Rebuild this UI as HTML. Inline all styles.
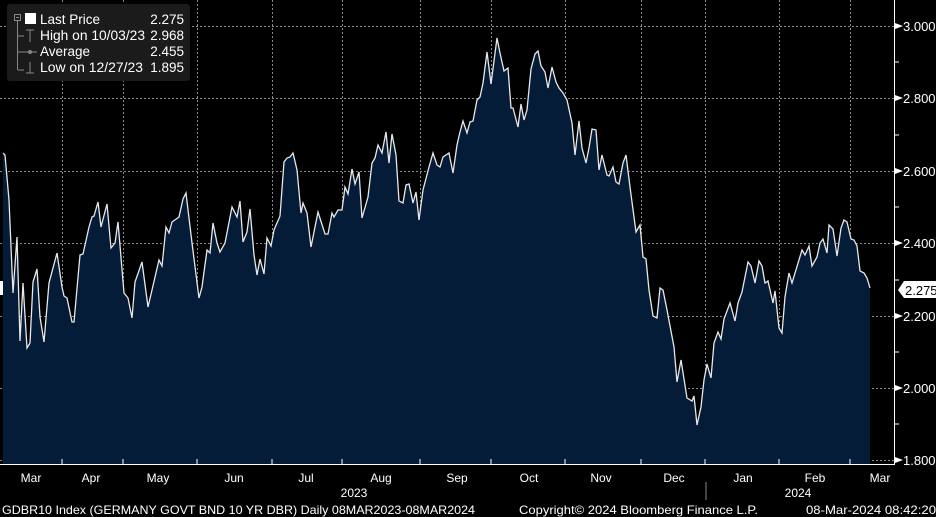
<!DOCTYPE html>
<html><head><meta charset="utf-8"><style>
html,body{margin:0;padding:0;background:#000;}
svg{display:block;font-family:"Liberation Sans",sans-serif;}
</style></head><body>
<svg width="936" height="517" viewBox="0 0 936 517">
<rect width="936" height="517" fill="#000"/>
<g stroke="#8a8a8a" stroke-width="1" stroke-dasharray="2,2">
<line x1="0" y1="26.5" x2="894" y2="26.5"/><line x1="0" y1="98.5" x2="894" y2="98.5"/><line x1="0" y1="171.5" x2="894" y2="171.5"/><line x1="0" y1="243.5" x2="894" y2="243.5"/><line x1="0" y1="316.5" x2="894" y2="316.5"/><line x1="0" y1="388.5" x2="894" y2="388.5"/><line x1="0" y1="460.5" x2="894" y2="460.5"/>
<line x1="62.5" y1="0" x2="62.5" y2="464"/><line x1="123.5" y1="0" x2="123.5" y2="464"/><line x1="197.5" y1="0" x2="197.5" y2="464"/><line x1="272.5" y1="0" x2="272.5" y2="464"/><line x1="342.5" y1="0" x2="342.5" y2="464"/><line x1="420.5" y1="0" x2="420.5" y2="464"/><line x1="491.5" y1="0" x2="491.5" y2="464"/><line x1="565.5" y1="0" x2="565.5" y2="464"/><line x1="641.5" y1="0" x2="641.5" y2="464"/><line x1="705.5" y1="0" x2="705.5" y2="464"/><line x1="779.5" y1="0" x2="779.5" y2="464"/><line x1="850.5" y1="0" x2="850.5" y2="464"/>
</g>
<polygon fill="#041c38" points="3,464 3,153 5,155 9,200 13,293 17,237 20,341 23,283 27,348 30,343 33,282 37,269 40,317 44,342 49,283 57,253 62,287 64,296 67,298 72,322 74,322 80,255 83,254 89,227 92,217 94,216 98,202 101,227 107,204 111,248 115,243 118,222 124,293 128,298 132,318 135,282 142,262 148,307 152,290 159,260 162,266 166,227 169,233 172,222 179,217 183,199 186,193 192,243 199,298 202,287 207,250 210,253 213,223 217,243 220,252 225,243 232,207 237,217 240,201 243,242 247,232 250,209 254,255 257,275 260,259 264,274 267,238 271,246 274,230 280,216 284,162 287,158 290,157 293,153 297,170 301,213 303,203 307,213 311,247 318,212 325,234 328,234 332,213 334,217 338,210 342,210 345,187 348,194 352,169 355,184 359,172 362,218 368,197 372,163 375,158 378,145 382,153 386,132 389,163 392,134 396,155 399,201 403,203 406,185 409,184 413,203 416,192 419,220 423,190 429,167 433,153 437,165 440,167 443,157 449,153 453,173 457,145 460,132 463,121 467,133 470,122 473,121 477,100 480,97 483,83 487,52 491,84 497,38 500,53 504,71 508,68 511,108 513,108 518,127 521,104 524,120 527,110 531,69 535,54 538,51 541,66 545,72 548,88 552,67 556,82 559,88 563,93 567,100 572,123 575,155 579,121 582,148 586,163 589,148 592,129 596,130 599,170 602,155 607,175 609,176 613,167 616,182 619,184 623,163 626,155 630,187 636,232 640,225 643,257 646,259 649,290 653,316 657,318 660,288 663,290 667,310 674,347 677,382 681,360 687,398 692,401 694,396 697,425 701,407 704,380 707,364 711,378 714,343 718,332 721,339 724,319 730,303 735,321 738,303 742,292 748,262 751,266 755,283 759,261 762,266 765,283 768,281 773,303 775,291 779,328 782,333 785,297 789,273 792,283 802,250 805,255 809,246 812,266 817,257 820,243 823,239 827,253 829,225 833,229 837,256 841,228 844,220 847,222 851,239 854,240 857,246 860,271 864,273 867,278 870,288 870,464"/>
<polyline fill="none" stroke="#e8e8e8" stroke-width="1.3" points="3,153 5,155 9,200 13,293 17,237 20,341 23,283 27,348 30,343 33,282 37,269 40,317 44,342 49,283 57,253 62,287 64,296 67,298 72,322 74,322 80,255 83,254 89,227 92,217 94,216 98,202 101,227 107,204 111,248 115,243 118,222 124,293 128,298 132,318 135,282 142,262 148,307 152,290 159,260 162,266 166,227 169,233 172,222 179,217 183,199 186,193 192,243 199,298 202,287 207,250 210,253 213,223 217,243 220,252 225,243 232,207 237,217 240,201 243,242 247,232 250,209 254,255 257,275 260,259 264,274 267,238 271,246 274,230 280,216 284,162 287,158 290,157 293,153 297,170 301,213 303,203 307,213 311,247 318,212 325,234 328,234 332,213 334,217 338,210 342,210 345,187 348,194 352,169 355,184 359,172 362,218 368,197 372,163 375,158 378,145 382,153 386,132 389,163 392,134 396,155 399,201 403,203 406,185 409,184 413,203 416,192 419,220 423,190 429,167 433,153 437,165 440,167 443,157 449,153 453,173 457,145 460,132 463,121 467,133 470,122 473,121 477,100 480,97 483,83 487,52 491,84 497,38 500,53 504,71 508,68 511,108 513,108 518,127 521,104 524,120 527,110 531,69 535,54 538,51 541,66 545,72 548,88 552,67 556,82 559,88 563,93 567,100 572,123 575,155 579,121 582,148 586,163 589,148 592,129 596,130 599,170 602,155 607,175 609,176 613,167 616,182 619,184 623,163 626,155 630,187 636,232 640,225 643,257 646,259 649,290 653,316 657,318 660,288 663,290 667,310 674,347 677,382 681,360 687,398 692,401 694,396 697,425 701,407 704,380 707,364 711,378 714,343 718,332 721,339 724,319 730,303 735,321 738,303 742,292 748,262 751,266 755,283 759,261 762,266 765,283 768,281 773,303 775,291 779,328 782,333 785,297 789,273 792,283 802,250 805,255 809,246 812,266 817,257 820,243 823,239 827,253 829,225 833,229 837,256 841,228 844,220 847,222 851,239 854,240 857,246 860,271 864,273 867,278 870,288"/>
<rect x="0" y="281" width="3" height="14" fill="#fff"/>
<g stroke="#fff" stroke-width="1">
<line x1="894.5" y1="0" x2="894.5" y2="465"/>
<line x1="0" y1="464.5" x2="895" y2="464.5"/>
<line x1="62" y1="464" x2="62" y2="459"/><line x1="123" y1="464" x2="123" y2="459"/><line x1="197" y1="464" x2="197" y2="459"/><line x1="272" y1="464" x2="272" y2="459"/><line x1="342" y1="464" x2="342" y2="459"/><line x1="420" y1="464" x2="420" y2="459"/><line x1="491" y1="464" x2="491" y2="459"/><line x1="565" y1="464" x2="565" y2="459"/><line x1="641" y1="464" x2="641" y2="459"/><line x1="705" y1="464" x2="705" y2="459"/><line x1="779" y1="464" x2="779" y2="459"/><line x1="850" y1="464" x2="850" y2="459"/>
<line x1="895" y1="62" x2="899" y2="62"/><line x1="895" y1="135" x2="899" y2="135"/><line x1="895" y1="207" x2="899" y2="207"/><line x1="895" y1="280" x2="899" y2="280"/><line x1="895" y1="352" x2="899" y2="352"/><line x1="895" y1="424" x2="899" y2="424"/>
<line x1="706" y1="482" x2="706" y2="500" stroke="#888"/>
</g>
<g fill="#fff">
<polygon points="895,23 903,26 895,29"/><polygon points="895,95 903,98 895,101"/><polygon points="895,168 903,171 895,174"/><polygon points="895,240 903,243 895,246"/><polygon points="895,313 903,316 895,319"/><polygon points="895,385 903,388 895,391"/><polygon points="895,457 903,460 895,463"/>
</g>
<g fill="#fff" font-size="13">
<text x="903" y="31">3.000</text><text x="903" y="103">2.800</text><text x="903" y="176">2.600</text><text x="903" y="248">2.400</text><text x="903" y="321">2.200</text><text x="903" y="393">2.000</text><text x="903" y="465">1.800</text>
</g>
<polygon points="898,290 904,281 936,281 936,298 904,298" fill="#fff"/>
<text x="905" y="295" font-size="13" fill="#000">2.275</text>
<g fill="#fff" font-size="12" text-anchor="middle">
<text x="31" y="482">Mar</text><text x="91" y="482">Apr</text><text x="158" y="482">May</text><text x="234" y="482">Jun</text><text x="306" y="482">Jul</text><text x="381" y="482">Aug</text><text x="457" y="482">Sep</text><text x="529" y="482">Oct</text><text x="601" y="482">Nov</text><text x="674" y="482">Dec</text><text x="743" y="482">Jan</text><text x="815" y="482">Feb</text><text x="880" y="482">Mar</text>
<text x="354" y="497">2023</text><text x="798" y="497">2024</text>
</g>
<g fill="#fff" font-size="12">
<text x="2" y="514" textLength="473" lengthAdjust="spacingAndGlyphs">GDBR10 Index (GERMANY GOVT BND 10 YR DBR)  Daily 08MAR2023-08MAR2024</text>
<text x="519" y="514" textLength="239" lengthAdjust="spacingAndGlyphs">Copyright© 2024 Bloomberg Finance L.P.</text>
<text x="806" y="514" textLength="130" lengthAdjust="spacingAndGlyphs">08-Mar-2024 08:42:20</text>
</g>
<rect x="7" y="4" width="183" height="77" rx="3" fill="#1b1b1b"/>
<g stroke="#888" fill="none" stroke-width="1">
<rect x="14.5" y="14.5" width="6" height="6"/><line x1="16" y1="17.5" x2="19" y2="17.5"/>
<line x1="17.5" y1="21" x2="17.5" y2="70"/>
<line x1="18" y1="36" x2="24" y2="36"/><line x1="18" y1="52" x2="24" y2="52"/><line x1="18" y1="70" x2="24" y2="70"/>
<line x1="30" y1="30" x2="30" y2="42"/><line x1="26" y1="30" x2="34" y2="30"/>
<line x1="24" y1="52" x2="37" y2="52"/>
<line x1="30" y1="62" x2="30" y2="73"/><line x1="26" y1="73" x2="34" y2="73"/>
</g>
<circle cx="30" cy="52" r="2" fill="#888"/>
<rect x="25" y="13" width="11" height="11" fill="#fff"/>
<g fill="#fff" font-size="13.5">
<text x="40" y="24">Last Price</text><text x="184" y="24" text-anchor="end">2.275</text>
<text x="40" y="40" textLength="105" lengthAdjust="spacingAndGlyphs">High on 10/03/23</text><text x="184" y="40" text-anchor="end">2.968</text>
<text x="40" y="56">Average</text><text x="184" y="56" text-anchor="end">2.455</text>
<text x="40" y="72" textLength="103" lengthAdjust="spacingAndGlyphs">Low on 12/27/23</text><text x="184" y="72" text-anchor="end">1.895</text>
</g>
</svg>
</body></html>
